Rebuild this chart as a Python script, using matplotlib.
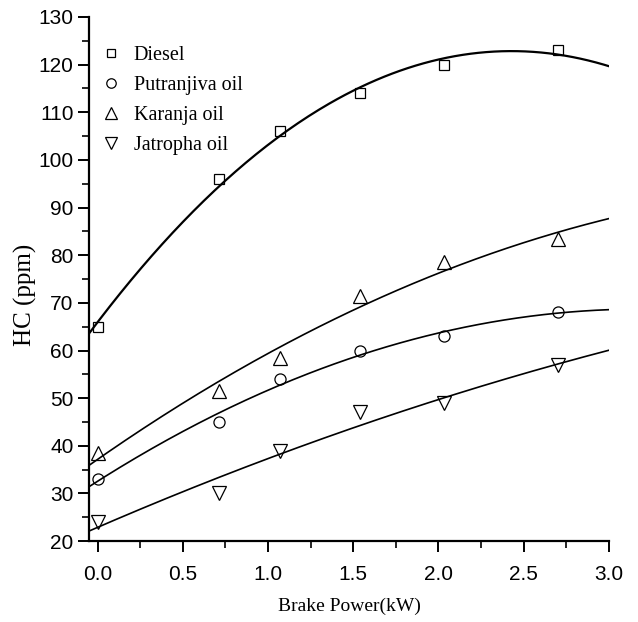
import numpy as np
import matplotlib
matplotlib.use("Agg")
from matplotlib import pyplot as plt
from matplotlib import font_manager
from matplotlib.ticker import MultipleLocator

# brake power (kW)
power = [0.0, 0.71, 1.07, 1.54, 2.03, 2.70]

# HC emissions (ppm)
diesel = [65, 96, 106, 114, 120, 123]
putranjiva = [33, 45, 54, 60, 63, 68]
karanja = [38.5, 51.5, 58.5, 71.5, 78.5, 83.5]
jatropha = [24, 30, 39, 47, 49, 57]

series = [
    ("Diesel", diesel, "s", 7),
    ("Putranjiva oil", putranjiva, "o", 8),
    ("Karanja oil", karanja, "^", 9.5),
    ("Jatropha oil", jatropha, "v", 9.5),
]

serif = ["Liberation Serif", "DejaVu Serif"]

# tick labels look like a condensed sans; use one if it is installed
names = {f.name for f in font_manager.fontManager.ttflist}
narrow = [n for n in ("Liberation Sans Narrow", "DejaVu Sans Condensed")
          if n in names] + ["Liberation Sans", "DejaVu Sans"]

fig = plt.figure(figsize=(6.38, 6.22), dpi=100)
ax = fig.add_axes([0.1395, 0.130, 0.815, 0.8427])

x = np.array(power)
xfit = np.linspace(-0.05, 3.0, 200)
for name, vals, m, ms in series:
    ax.plot(x, vals, m, mfc="none", mec="black", ms=ms, mew=0.9,
            linestyle="none", label=name)
    # quadratic fit, as in the original
    coef = np.polyfit(x, vals, 2)
    lw = 1.6 if name == "Diesel" else 1.2
    ax.plot(xfit, np.polyval(coef, xfit), color="black", lw=lw)

ax.set_xlim(-0.05, 3.0)
ax.set_ylim(20, 130)
ax.xaxis.set_major_locator(MultipleLocator(0.5))
ax.xaxis.set_minor_locator(MultipleLocator(0.25))
ax.yaxis.set_major_locator(MultipleLocator(10))
ax.yaxis.set_minor_locator(MultipleLocator(5))

for s in ("top", "right"):
    ax.spines[s].set_visible(False)
for s in ("left", "bottom"):
    ax.spines[s].set_linewidth(1.6)

ax.tick_params(which="major", direction="out", length=8, width=1.4,
               labelsize=15, pad=3)
ax.tick_params(which="minor", direction="out", length=5, width=1.2)
ax.tick_params(axis="x", pad=9)
for lab in ax.get_xticklabels() + ax.get_yticklabels():
    lab.set_family(narrow)

ax.set_xlabel("Brake Power(kW)", family=serif, fontsize=14, labelpad=10)
ax.set_ylabel("HC (ppm)", family=serif, fontsize=18)
ax.yaxis.set_label_coords(-0.1, 0.47)

hs, ls = ax.get_legend_handles_labels()
ax.legend(hs[:4], ls[:4], loc="upper left", bbox_to_anchor=(-0.015, 0.98),
          frameon=False, prop={"family": serif, "size": 14.5},
          handletextpad=0.5, labelspacing=0.55, handlelength=1.2,
          markerscale=0.85)

fig.savefig("out.png", dpi=100)
